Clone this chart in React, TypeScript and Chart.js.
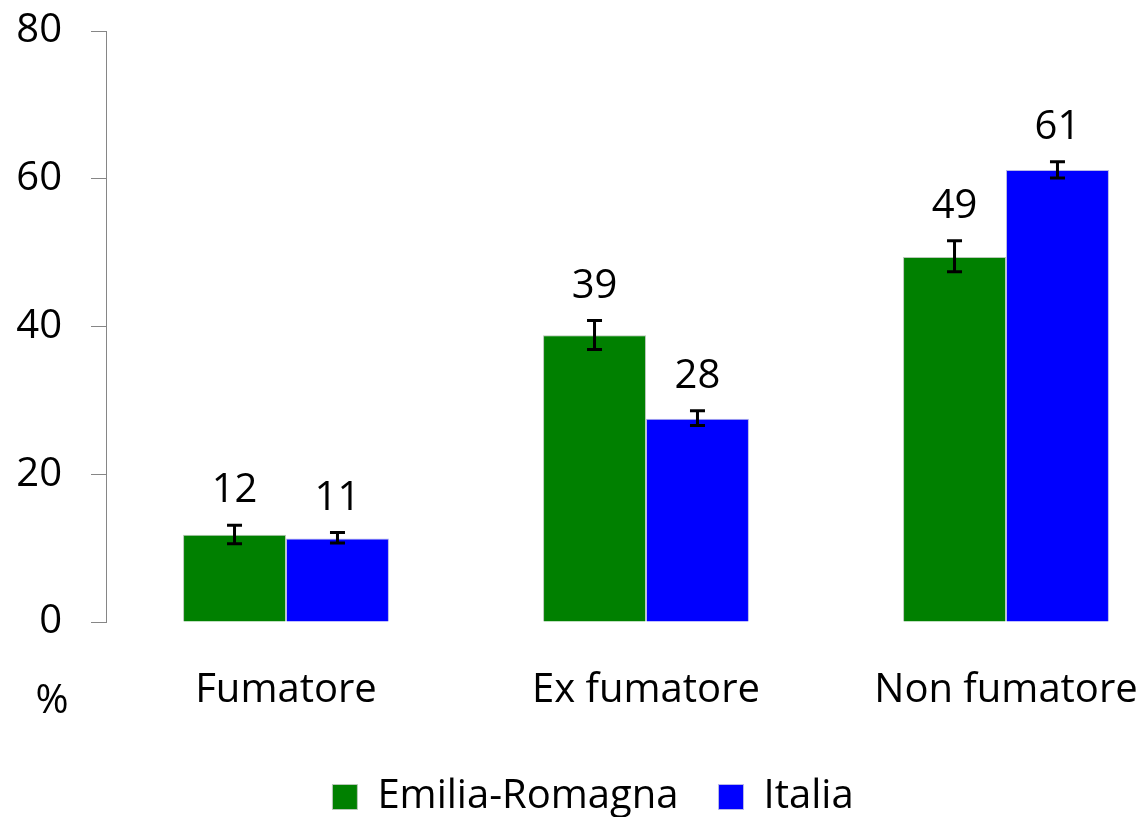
import React, { useEffect, useRef } from "react";
import { Chart, registerables } from "chart.js";

Chart.register(...registerables);

const categories = ["Fumatore", "Ex fumatore", "Non fumatore"];
const seriesNames = ["Emilia-Romagna", "Italia"];
const emiliaValues = [11.8, 38.8, 49.4];
const italiaValues = [11.3, 27.5, 61.2];
const emiliaLow = [10.6, 36.9, 47.4];
const emiliaHigh = [13.1, 40.8, 51.6];
const italiaLow = [10.7, 26.6, 60.1];
const italiaHigh = [12.1, 28.6, 62.3];
const yMin = 0;
const yMax = 80;
const yStep = 20;
const unitLabel = "%";

const FONT = "'Open Sans', sans-serif";
const FS = 40;

const lows = [emiliaLow, italiaLow];
const highs = [emiliaHigh, italiaHigh];

const errorAndLabels = {
  id: "errAndLabels",
  afterDatasetsDraw(chart: any) {
    const ctx = chart.ctx;
    const y = chart.scales.y;
    chart.data.datasets.forEach((ds: any, i: number) => {
      const meta = chart.getDatasetMeta(i);
      meta.data.forEach((bar: any, j: number) => {
        const x = bar.x;
        const yl = y.getPixelForValue(lows[i][j]);
        const yh = y.getPixelForValue(highs[i][j]);
        ctx.save();
        ctx.strokeStyle = "#000";
        ctx.lineWidth = 3;
        ctx.beginPath();
        ctx.moveTo(x, yl);
        ctx.lineTo(x, yh);
        ctx.moveTo(x - 7.5, yl);
        ctx.lineTo(x + 7.5, yl);
        ctx.moveTo(x - 7.5, yh);
        ctx.lineTo(x + 7.5, yh);
        ctx.stroke();
        ctx.fillStyle = "#000";
        ctx.font = `${FS}px ${FONT}`;
        ctx.textAlign = "center";
        ctx.textBaseline = "alphabetic";
        ctx.fillText(String(Math.round(ds.data[j])), x, yh - 23);
        ctx.restore();
      });
    });
    const area = chart.chartArea;
    ctx.save();
    ctx.fillStyle = "#000";
    ctx.font = `${FS}px ${FONT}`;
    ctx.textAlign = "center";
    ctx.textBaseline = "middle";
    ctx.fillText(unitLabel, area.left - 54, area.bottom + 80);
    ctx.restore();
  },
};

export default function App() {
  const ref = useRef<HTMLCanvasElement | null>(null);
  useEffect(() => {
    if (!ref.current) return;
    const chart = new Chart(ref.current, {
      type: "bar",
      data: {
        labels: categories,
        datasets: [
          {
            label: seriesNames[0],
            data: emiliaValues,
            backgroundColor: "#008000",
            borderColor: "#b8c8b8",
            borderWidth: 1,
            barPercentage: 1,
            categoryPercentage: 0.572,
          },
          {
            label: seriesNames[1],
            data: italiaValues,
            backgroundColor: "#0000FF",
            borderColor: "#b8b8e8",
            borderWidth: 1,
            barPercentage: 1,
            categoryPercentage: 0.572,
          },
        ],
      },
      options: {
        responsive: false,
        animation: false,
        devicePixelRatio: 1,
        layout: { padding: { top: 31, right: 8, left: 0, bottom: 0 } },
        plugins: {
          tooltip: { enabled: false },
          legend: {
            position: "bottom",
            labels: {
              boxWidth: 25,
              boxHeight: 25,
              padding: 40,
              color: "#000",
              font: { family: FONT, size: FS },
            },
          },
        },
        scales: {
          x: {
            grid: { display: false },
            border: { display: false },
            ticks: { padding: 37, color: "#000", font: { family: FONT, size: FS } },
            afterFit: (s: any) => {
              s.height = 115;
            },
          },
          y: {
            min: yMin,
            max: yMax,
            ticks: { stepSize: yStep, padding: 29, color: "#000", font: { family: FONT, size: FS } },
            grid: { drawOnChartArea: false, drawTicks: true, tickLength: 15, color: "#868686" },
            border: { color: "#868686", width: 1 },
            afterFit: (s: any) => {
              s.width = 106;
              s.paddingTop = 0;
              s.paddingBottom = 0;
            },
          },
        },
      },
      plugins: [errorAndLabels],
    } as any);
    return () => chart.destroy();
  }, []);
  return (
    <div
      style={{
        position: "fixed",
        left: 0,
        top: 0,
        width: 1145,
        height: 817,
        overflow: "hidden",
        background: "#fff",
      }}
    >
      <canvas ref={ref} width={1194} height={827} style={{ display: "block" }} />
    </div>
  );
}
